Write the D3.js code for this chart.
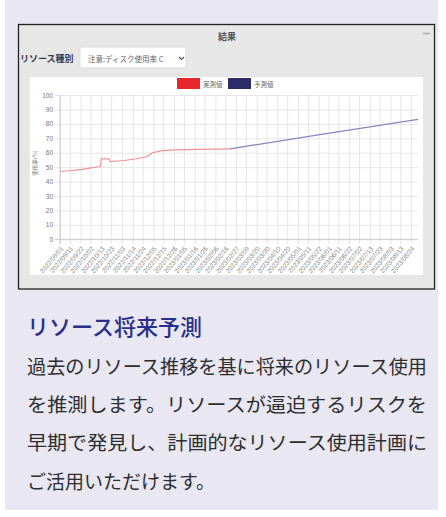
<!DOCTYPE html>
<html lang="ja">
<head>
  <meta charset="UTF-8">
  <title>リソース将来予測</title>
  <script src="https://d3js.org/d3.v7.min.js"></script>
  <style>
    body { margin: 0; background: #fff; }
    svg { display: block; }
  </style>
</head>
<body>
<script>
  // x軸ラベル (Chart.js の自動間引き後の表示ラベル)
  const xTickLabels = [
    "2022/09/01", "2022/09/11", "2022/09/22", "2022/10/02", "2022/10/13", "2022/10/23",
    "2022/11/03", "2022/11/14", "2022/11/24", "2022/12/05", "2022/12/15", "2022/12/26",
    "2023/01/05", "2023/01/16", "2023/01/26", "2023/02/06", "2023/02/16", "2023/02/27",
    "2023/03/09", "2023/03/20", "2023/03/30", "2023/04/10", "2023/04/20", "2023/05/01",
    "2023/05/11", "2023/05/22", "2023/06/01", "2023/06/11", "2023/06/22", "2023/07/02",
    "2023/07/13", "2023/07/23", "2023/08/03", "2023/08/13", "2023/08/24"
  ];
  const firstDate = "2022/09/01";
  const lastDate = "2023/08/31";
  const yTicks = [0, 10, 20, 30, 40, 50, 60, 70, 80, 90, 100];

  // 実測値
  const actualDates = [
    "2022/09/01", "2022/09/10", "2022/09/22", "2022/10/01", "2022/10/12", "2022/10/13",
    "2022/10/21", "2022/10/22", "2022/11/05", "2022/11/18", "2022/11/28", "2022/12/04",
    "2022/12/14", "2022/12/26", "2023/01/20", "2023/02/21"
  ];
  const actualValues = [47.0, 47.5, 48.3, 49.3, 50.4, 55.7, 55.7, 53.8, 54.6, 55.8, 57.2, 60.0, 61.4, 62.0, 62.3, 62.7];

  // 予測値
  const forecastDates = ["2023/02/21", "2023/05/20", "2023/08/31"];
  const forecastValues = [62.7, 72.2, 83.1];

  const legendLabels = ["実測値", "予測値"];

  const W = 446, H = 517;
  const jpFont = "'Noto Sans CJK JP', sans-serif";
  const chartFont = "'Liberation Sans', 'Noto Sans CJK JP', sans-serif";

  const parse = d3.timeParse("%Y/%m/%d");
  const fmt = d3.timeFormat("%Y/%m/%d");

  const svg = d3.select("body").append("svg")
    .attr("width", W)
    .attr("height", H);

  // 背景カード
  svg.append("rect").attr("x", 5).attr("y", 0).attr("width", 433).attr("height", 510).attr("fill", "#e8e7f2");

  // スクリーンショット枠
  svg.append("rect")
    .attr("x", 18.5).attr("y", 24.5).attr("width", 416).attr("height", 264.5)
    .attr("fill", "#e7e7e7").attr("stroke", "#222").attr("stroke-width", 1.3);

  svg.append("text")
    .attr("x", 227).attr("y", 36).attr("text-anchor", "middle").attr("dominant-baseline", "central")
    .attr("font-family", jpFont).attr("font-size", 9).attr("font-weight", "bold").attr("fill", "#555")
    .text("結果");
  svg.append("line")
    .attr("x1", 423).attr("x2", 430).attr("y1", 33.5).attr("y2", 33.5)
    .attr("stroke", "#aaa").attr("stroke-width", 1.5);

  svg.append("text")
    .attr("x", 20).attr("y", 58).attr("dominant-baseline", "central")
    .attr("font-family", jpFont).attr("font-size", 9).attr("font-weight", "bold").attr("fill", "#3a3a4a")
    .text("リソース種別");

  svg.append("rect")
    .attr("x", 80).attr("y", 47).attr("width", 106).attr("height", 21).attr("rx", 2)
    .attr("fill", "#fff").attr("stroke", "#ddd");
  svg.append("text")
    .attr("x", 88).attr("y", 58).attr("dominant-baseline", "central")
    .attr("font-family", jpFont).attr("font-size", 7.5).attr("fill", "#666")
    .text("注意:ディスク使用率 C");
  svg.append("path")
    .attr("d", "M179,57 L181.5,59.5 L184,57")
    .attr("fill", "none").attr("stroke", "#555").attr("stroke-width", 1.2);

  // チャート領域
  svg.append("rect").attr("x", 30).attr("y", 77).attr("width", 393).attr("height", 198).attr("fill", "#fff");

  const plotLeft = 60, plotRight = 418, plotTop = 95, plotBottom = 239.3;

  const x = d3.scaleTime()
    .domain([parse(firstDate), parse(lastDate)])
    .range([plotLeft, plotRight]);

  const y = d3.scaleLinear()
    .domain([0, 100])
    .range([plotBottom, plotTop]);

  // y軸 + 横グリッド
  const gy = svg.append("g")
    .attr("transform", `translate(${plotLeft - 5},0)`)
    .call(d3.axisLeft(y).tickValues(yTicks).tickSize(-(plotRight - plotLeft + 5)).tickPadding(2));
  gy.select(".domain").remove();
  gy.attr("font-family", chartFont).attr("font-size", 6.5);
  gy.selectAll("line").attr("stroke", "#e6e6e6");
  gy.selectAll("text").attr("fill", "#777");

  // x軸 + 縦グリッド
  const gx = svg.append("g")
    .attr("transform", `translate(0,${plotBottom + 5})`)
    .call(d3.axisBottom(x)
      .tickValues(xTickLabels.map(parse))
      .tickFormat(fmt)
      .tickSize(-(plotBottom + 5 - plotTop))
      .tickPadding(0));
  gx.select(".domain").remove();
  gx.attr("font-family", chartFont).attr("font-size", 6.5);
  gx.selectAll("line").attr("stroke", "#e6e6e6");
  gx.selectAll("text")
    .attr("fill", "#888")
    .attr("y", 0)
    .attr("dy", "0.35em")
    .attr("text-anchor", "end")
    .attr("transform", "translate(1.5,3) rotate(-50)");

  // 軸の線
  svg.append("line")
    .attr("x1", plotLeft).attr("x2", plotLeft).attr("y1", plotTop).attr("y2", plotBottom + 5)
    .attr("stroke", "#cfc8c8");
  svg.append("line")
    .attr("x1", plotLeft - 5).attr("x2", plotRight).attr("y1", y(0)).attr("y2", y(0))
    .attr("stroke", "#cfc8c8");

  svg.append("text")
    .attr("transform", `translate(35,163) rotate(-90)`)
    .attr("text-anchor", "middle").attr("dominant-baseline", "central")
    .attr("font-family", jpFont).attr("font-size", 5.5).attr("fill", "#777")
    .text("使用率(%)");

  const line = d3.line()
    .x(d => x(d.date))
    .y(d => y(d.value));

  const actual = actualDates.map((d, i) => ({ date: parse(d), value: actualValues[i] }));
  const forecast = forecastDates.map((d, i) => ({ date: parse(d), value: forecastValues[i] }));

  svg.append("path")
    .datum(forecast)
    .attr("d", line)
    .attr("fill", "none").attr("stroke", "#8587bd").attr("stroke-width", 1.2);

  svg.append("path")
    .datum(actual)
    .attr("d", line)
    .attr("fill", "none").attr("stroke", "#ef9393").attr("stroke-width", 1.2);

  // 凡例
  const legendColors = ["#e8262c", "#2b2d6b"];
  const legendX = [177, 228];
  legendLabels.forEach((label, i) => {
    svg.append("rect")
      .attr("x", legendX[i]).attr("y", 78).attr("width", 23).attr("height", 11)
      .attr("fill", legendColors[i]);
    svg.append("text")
      .attr("x", legendX[i] + 26).attr("y", 83.5).attr("dominant-baseline", "central")
      .attr("font-family", jpFont).attr("font-size", 6.5).attr("fill", "#666")
      .text(label);
  });

  // 説明文
  svg.append("text")
    .attr("x", 27).attr("y", 325).attr("dominant-baseline", "central")
    .attr("font-family", jpFont).attr("font-size", 21.5).attr("font-weight", 500).attr("fill", "#2b2f8c")
    .attr("textLength", 175).attr("lengthAdjust", "spacingAndGlyphs")
    .text("リソース将来予測");

  const bodyLines = [
    "過去のリソース推移を基に将来のリソース使用",
    "を推測します。リソースが逼迫するリスクを",
    "早期で発見し、計画的なリソース使用計画に",
    "ご活用いただけます。"
  ];
  const bodyY = [365, 403.5, 441.5, 480];
  bodyLines.forEach((t, i) => {
    const el = svg.append("text")
      .attr("x", 27).attr("y", bodyY[i]).attr("dominant-baseline", "central")
      .attr("font-family", jpFont).attr("font-size", 19).attr("fill", "#2e2e2e")
      .text(t);
    if (i < bodyLines.length - 1) {
      el.attr("textLength", 400).attr("lengthAdjust", "spacingAndGlyphs");
    }
  });
</script>
</body>
</html>
